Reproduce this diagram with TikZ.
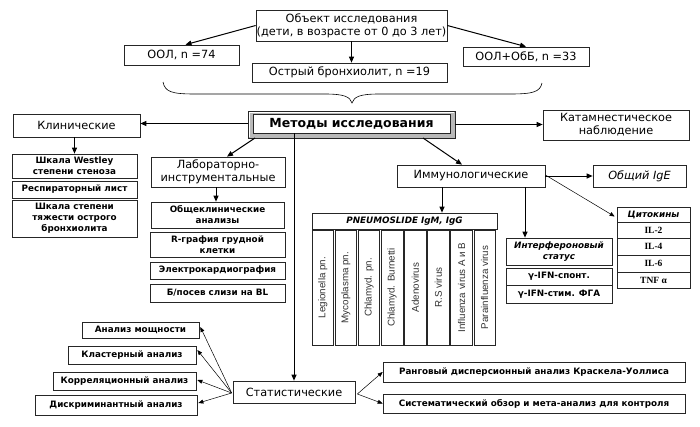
\documentclass[tikz,border=0pt]{standalone}
\usepackage{fontspec}
\setmainfont{DejaVu Sans}
\newfontfamily\arialf{Liberation Sans}
\newfontfamily\timesf{Liberation Serif}
\usetikzlibrary{arrows.meta}
\tikzset{
  box/.style={draw=black!85, line width=0.7pt, fill=white, inner sep=0pt, align=center,
    font=\fontsize{11.3}{13}\selectfont},
  sbox/.style={box, font=\fontsize{8.8}{11}\selectfont\bfseries},
  ibox/.style={box, font=\fontsize{8.8}{11}\selectfont\bfseries\itshape},
  tbox/.style={box, font=\fontsize{9.5}{11}\timesf\bfseries},
  colbox/.style={box, rotate=90, minimum width=115pt, minimum height=21.5pt,
    font=\fontsize{9.8}{10}\arialf, text=black!80},
  arr/.style={line width=1pt, -{Triangle[length=6pt,width=5pt]}},
  tarr/.style={line width=0.5pt, -{Triangle[length=5pt,width=4pt]}},
}
\begin{document}
\begin{tikzpicture}[x=1pt,y=-1pt]
\useasboundingbox (0,0) rectangle (700,426);
% top
\node[box, minimum width=191pt, minimum height=31pt] (obj) at (351.5,25.5)
  {Объект исследования\\(дети, в возрасте от 0 до 3 лет)};
\node[box, minimum width=115pt, minimum height=20pt] (ool) at (181.5,55) {ООЛ, n =74};
\node[box, minimum width=195pt, minimum height=19pt] (ob) at (349.5,72.5) {Острый бронхиолит, n =19};
\node[box, minimum width=126pt, minimum height=19pt] (oolb) at (526,56.5) {ООЛ+ОбБ, n =33};
\draw[arr] (obj.west) -- ([xshift=4pt]ool.north);
\draw[arr] (obj.east) -- (oolb.north);
\draw[arr] (obj.south) -- (obj.south |- ob.north);
% brace
\draw[line width=0.6pt] (163,82) .. controls (165,92) and (172,94) .. (195,94) -- (325,94)
  .. controls (345,94) and (350,97) .. (352,103) .. controls (354,97) and (359,94) .. (379,94)
  -- (510,94) .. controls (533,94) and (540,92) .. (542,83);
% methods (bevelled)
\fill[gray!55, draw=black!85, line width=0.7pt] (248,111) rectangle (455,138);
\draw[white, line width=0.8pt] (249,137) -- (249,112) -- (454,112);
\node[draw=black!85, line width=0.6pt, fill=white, minimum width=197pt, minimum height=19pt,
  inner sep=0pt, font=\fontsize{12.5}{14}\selectfont\bfseries] (meth) at (351.5,123.5) {Методы исследования};
% clinical
\node[box, minimum width=127pt, minimum height=23pt] (klin) at (76.5,125.5) {Клинические};
\node[sbox, minimum width=125pt, minimum height=24pt] (w) at (74.5,166) {Шкала Westley\\степени стеноза};
\node[sbox, minimum width=125pt, minimum height=17pt] (resp) at (74.5,189.5) {Респираторный лист};
\node[sbox, minimum width=125pt, minimum height=37pt] (tyazh) at (74.5,218.5) {Шкала степени\\тяжести острого\\бронхиолита};
\draw[arr] (meth.west -| 248,0) -- (meth.west -| klin.east);
\draw[arr] (w.north |- klin.south) -- (w.north);
% lab
\node[box, minimum width=134pt, minimum height=30pt] (lab) at (218,172) {Лабораторно-\\инструментальные};
\node[sbox, minimum width=133pt, minimum height=26pt] (obsh) at (217.5,215) {Общеклинические\\анализы};
\node[sbox, minimum width=135pt, minimum height=25pt] (rgr) at (217.5,244.5) {R-графия грудной\\клетки};
\node[sbox, minimum width=135pt, minimum height=17pt] (ekg) at (217.5,270.5) {Электрокардиография};
\node[sbox, minimum width=135pt, minimum height=18pt] (bpos) at (217.5,293) {Б/посев слизи на BL};
\draw[arr] (255,138) -- ([xshift=9pt]lab.north);
\draw[arr] ([xshift=-2pt]lab.south) -- ([xshift=-2pt]lab.south |- obsh.north);
% katamnesis
\node[box, minimum width=146pt, minimum height=30pt] (kat) at (616,125) {Катамнестическое\\наблюдение};
\draw[arr] (455,124.5) -- (kat.west |- 0,124.5);
% immunological
\node[box, minimum width=148pt, minimum height=22pt] (imm) at (471,176) {Иммунологические};
\node[box, minimum width=93pt, minimum height=22pt, font=\fontsize{11.3}{13}\selectfont\itshape] (ige) at (639.5,176) {Общий IgE};
\draw[arr] (423,138) -- ([xshift=-9pt]imm.north);
\draw[arr] (imm.east) -- (ige.west);
% cytokines
\node[ibox, minimum width=73pt, minimum height=15pt] (cyt) at (653.5,214.5) {Цитокины};
\node[tbox, minimum width=73pt, minimum height=16pt] (il2) at (653.5,230) {IL-2};
\node[tbox, minimum width=73pt, minimum height=17pt] (il4) at (653.5,246.5) {IL-4};
\node[tbox, minimum width=73pt, minimum height=17pt] (il6) at (653.5,263.5) {IL-6};
\node[tbox, minimum width=73pt, minimum height=16pt] (tnf) at (653.5,280) {TNF α};
\draw[tarr] ([yshift=1pt]imm.east) -- ([xshift=-2pt,yshift=-2pt]cyt.west);
% interferon
\node[ibox, minimum width=106pt, minimum height=27pt] (ifn) at (559,251.5) {Интерфероновый\\статус};
\node[sbox, minimum width=106pt, minimum height=17pt] (ifn1) at (559,276.5) {γ-IFN-спонт.};
\node[sbox, minimum width=106pt, minimum height=18pt] (ifn2) at (559,294) {γ-IFN-стим. ФГА};
\draw[arr] ([xshift=54pt]imm.south) -- ([xshift=54pt]imm.south |- ifn.north);
% pneumoslide
\node[ibox, minimum width=185pt, minimum height=16pt] (pn) at (404.5,221) {PNEUMOSLIDE IgM, IgG};
\draw[arr] ([xshift=-29pt]imm.south) -- ([xshift=-29pt]imm.south |- pn.north);
\foreach \i/\t in {0/Legionella pn., 1/Mycoplasma pn., 2/Chlamyd. pn., 3/Chlamyd. Burnetti,
  4/Adenovirus, 5/R.S virus, 6/Influenza virus A и B, 7/Parainfluenza virus}
  \node[colbox] (col\i) at ({312+\i*23.125+10.75},287.5) {\t};
% statistics
\node[box, minimum width=122pt, minimum height=22pt] (stat) at (294,392) {Статистические};
\draw[arr] (stat.north |- meth.south) -- (stat.north);
\node[sbox, minimum width=117pt, minimum height=16pt] (am) at (140.5,330) {Анализ мощности};
\node[sbox, minimum width=128pt, minimum height=18pt] (kl) at (132,355) {Кластерный анализ};
\node[sbox, minimum width=143pt, minimum height=18pt] (kor) at (124.5,381) {Корреляционный анализ};
\node[sbox, minimum width=162pt, minimum height=20pt] (dis) at (116,405) {Дискриминантный анализ};
\node[sbox, minimum width=302pt, minimum height=20pt] (rang) at (534,372) {Ранговый дисперсионный анализ Краскела-Уоллиса};
\node[sbox, minimum width=302pt, minimum height=19pt] (sys) at (534,403.5) {Систематический обзор и мета-анализ для контроля};
\foreach \n/\dy in {am/3, kl/5, kor/1, dis/2}
  \draw[tarr] ([xshift=-1pt,yshift=-1pt]stat.west) -- ([xshift=1pt,yshift=\dy pt]\n.east);
\draw[tarr] ([xshift=2pt,yshift=-2pt]stat.east) -- (rang.west);
\draw[tarr] ([xshift=2pt,yshift=-2pt]stat.east) -- (sys.west);
\end{tikzpicture}
\end{document}
